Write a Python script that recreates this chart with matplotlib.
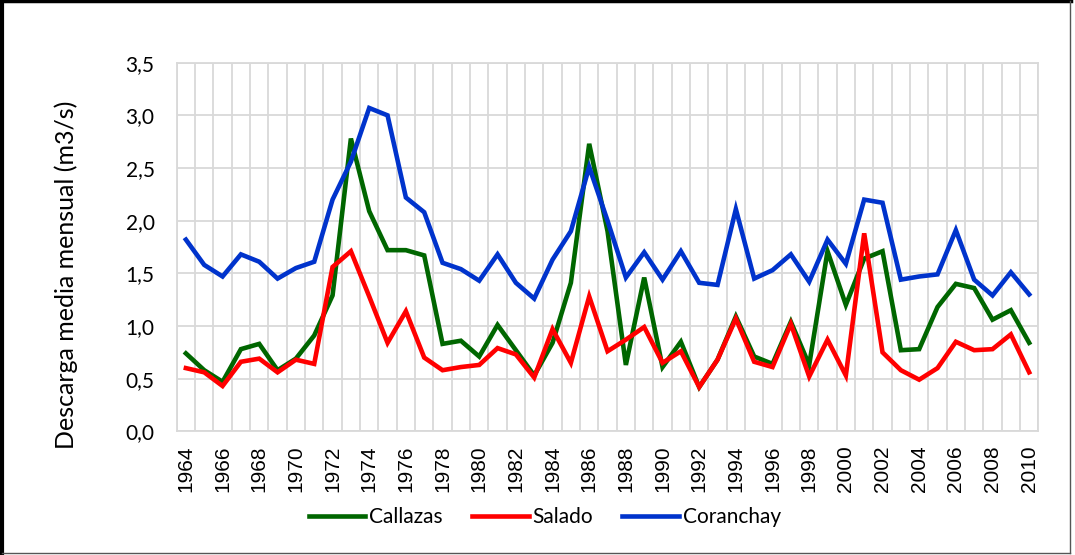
import numpy as np
import matplotlib.pyplot as plt
from matplotlib.ticker import FuncFormatter, MultipleLocator
from matplotlib.lines import Line2D

# Annual series (1964-2010)
years = list(range(1964, 2011))
callazas = [0.74, 0.58, 0.47, 0.78, 0.83, 0.58, 0.69, 0.91, 1.29, 2.78,
            2.09, 1.72, 1.72, 1.67, 0.83, 0.86, 0.71, 1.01, 0.77, 0.53,
            0.84, 1.41, 2.73, 1.90, 0.63, 1.46, 0.61, 0.85, 0.42, 0.68,
            1.09, 0.71, 0.64, 1.04, 0.63, 1.71, 1.20, 1.64, 1.71, 0.77,
            0.78, 1.18, 1.40, 1.36, 1.06, 1.15, 0.84]
salado = [0.60, 0.56, 0.43, 0.66, 0.69, 0.56, 0.68, 0.64, 1.56, 1.71,
          1.28, 0.84, 1.14, 0.70, 0.58, 0.61, 0.63, 0.79, 0.73, 0.51,
          0.97, 0.65, 1.28, 0.76, 0.87, 0.99, 0.65, 0.76, 0.42, 0.68,
          1.07, 0.66, 0.61, 1.02, 0.52, 0.87, 0.53, 1.88, 0.75, 0.58,
          0.49, 0.60, 0.85, 0.77, 0.78, 0.92, 0.56]
coranchay = [1.82, 1.58, 1.47, 1.68, 1.61, 1.45, 1.55, 1.61, 2.20, 2.56,
             3.07, 3.00, 2.22, 2.08, 1.60, 1.54, 1.43, 1.68, 1.41, 1.26,
             1.63, 1.90, 2.51, 2.00, 1.46, 1.70, 1.44, 1.71, 1.41, 1.39,
             2.11, 1.45, 1.53, 1.68, 1.42, 1.82, 1.59, 2.20, 2.17, 1.44,
             1.47, 1.49, 1.91, 1.44, 1.29, 1.51, 1.30]

series_names = ['Callazas', 'Salado', 'Coranchay']
series_colors = ['#006600', '#ff0000', '#0033cc']

fig = plt.figure(figsize=(10.75, 5.55), dpi=100)
ax = fig.add_axes([0.1644, 0.2229, 0.8015, 0.6641])

x = np.arange(len(years))
for vals, name, col in zip([callazas, salado, coranchay], series_names, series_colors):
    ax.plot(x, vals, color=col, lw=3.3, label=name, solid_joinstyle='miter')

ax.set_xlim(-0.5, len(years) - 0.5)
ax.set_ylim(0, 3.5)
ax.yaxis.set_major_locator(MultipleLocator(0.5))
ax.yaxis.set_major_formatter(FuncFormatter(lambda v, p: f'{v:.1f}'.replace('.', ',')))

ax.set_xticks(x[::2])
ax.set_xticklabels([str(y) for y in years[::2]], rotation=90,
                   family='Liberation Sans', fontsize=15)
ax.set_xticks(np.arange(-0.5, len(years), 1), minor=True)

for lbl in ax.get_yticklabels():
    lbl.set_family('Lato')
    lbl.set_fontsize(15)

ax.tick_params(axis='both', which='both', length=0)
ax.tick_params(axis='y', pad=16)
ax.tick_params(axis='x', pad=10)

ax.grid(True, which='major', axis='y', color='#d9d9d9', lw=1.3)
ax.grid(True, which='minor', axis='x', color='#d9d9d9', lw=1.3)
ax.set_axisbelow(True)
for sp in ax.spines.values():
    sp.set_color('#d9d9d9')
    sp.set_linewidth(1.3)

ax.set_ylabel('Descarga media mensual (m3/s)', family='Lato', fontsize=18)
ax.yaxis.set_label_coords(-0.115, 0.425)

fig.legend(loc='center', bbox_to_anchor=(0.507, 0.068), ncol=3, frameon=False,
           prop={'family': 'Lato', 'size': 15}, handlelength=2.7,
           handletextpad=0.2, columnspacing=1.4)

# chart frame
fig.add_artist(Line2D([0.001, 0.996], [0.998, 0.998], color='black', lw=2.5,
                      transform=fig.transFigure))
fig.add_artist(Line2D([0.002, 0.002], [0.002, 0.998], color='black', lw=3,
                      transform=fig.transFigure))
fig.add_artist(Line2D([0.995, 0.995], [0.004, 0.998], color='#555555', lw=1,
                      transform=fig.transFigure))
fig.add_artist(Line2D([0.002, 0.995], [0.004, 0.004], color='#555555', lw=1,
                      transform=fig.transFigure))

fig.savefig('out.png', dpi=100)
